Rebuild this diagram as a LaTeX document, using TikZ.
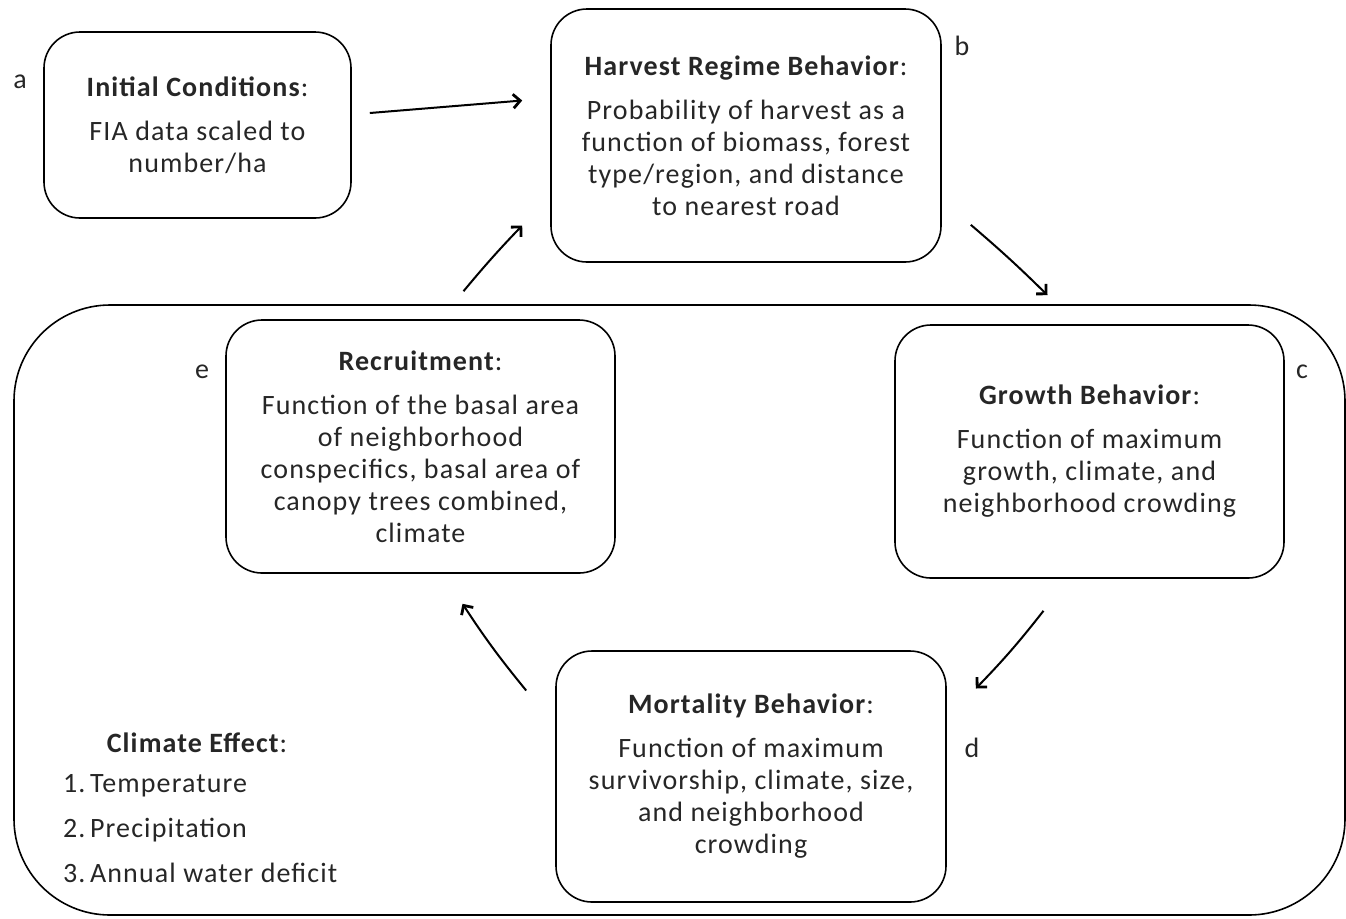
\documentclass[tikz,border=0pt]{standalone}
\usepackage{fontspec}
\setmainfont[LetterSpace=4]{Carlito}
\usetikzlibrary{arrows.meta}

\begin{document}
\begin{tikzpicture}[x=0.5pt,y=-0.5pt,every node/.style={font=\fontsize{14}{16}\selectfont,text=black!85},
  box/.style={draw=black,rounded corners=18pt,line width=0.8pt,align=center,inner sep=0pt,minimum width=195pt,minimum height=126.5pt},
  flow/.style={-{Straight Barb[length=3.5pt,width=7pt,line width=1.4pt]},line width=1pt}]
\useasboundingbox (0,0) rectangle (1346,918);
% climate container
\draw[line width=0.8pt,rounded corners=48pt] (14,305) rectangle (1345,915);
% model steps
\node[box,minimum width=153.5pt,minimum height=93pt] (init) at (197.5,125) {\textbf{Initial Conditions}:\\[6pt]FIA data scaled to\\number/ha};
\node[box] (harvest) at (746,135.5) {\textbf{Harvest Regime Behavior}:\\[6pt]Probability of harvest as a\\function of biomass, forest\\type/region, and distance\\to nearest road};
\node[box,minimum width=194.5pt] (growth) at (1089.5,451.5) {\textbf{Growth Behavior}:\\[6pt]Function of maximum\\growth, climate, and\\neighborhood crowding};
\node[box,minimum height=125.5pt] (mort) at (751,776.5) {\textbf{Mortality Behavior}:\\[6pt]Function of maximum\\survivorship, climate, size,\\and neighborhood\\crowding};
\node[box,minimum width=194.5pt] (recr) at (420.5,446.5) {\textbf{Recruitment}:\\[6pt]Function of the basal area\\of neighborhood\\conspecifics, basal area of\\canopy trees combined,\\climate};
% step letters
\node (la) at (20,82) {a}; \node (lb) at (962,46) {b}; \node (lc) at (1302,372) {c};
\node (ld) at (972,748) {d}; \node (le) at (202,372) {e};
% climate effect list
\node (clim) at (197,743) {\textbf{Climate Effect}:};
\node[anchor=west] (c1) at (56,786) {1.\,Temperature};
\node[anchor=west] (c2) at (56,830) {2.\,Precipitation};
\node[anchor=west] (c3) at (56,873) {3.\,Annual water deficit};
% flow
\draw[flow] ([shift={(18,-12)}]init.east) -- ([shift={(-28,-35)}]harvest.west);
\draw[flow] ([shift={(29,-38)}]harvest.south east) to[bend left=2] ([shift={(-42,-29)}]growth.north);
\draw[flow] ([shift={(-46,32)}]growth.south) to[bend left=3] ([shift={(29,-88)}]mort.east);
\draw[flow] ([shift={(-29,-86)}]mort.west) to[bend left=3] ([shift={(42,30)}]recr.south);
\draw[flow] ([shift={(43,-28)}]recr.north) to[bend left=2] ([shift={(-28,90)}]harvest.west);
\end{tikzpicture}
\end{document}
